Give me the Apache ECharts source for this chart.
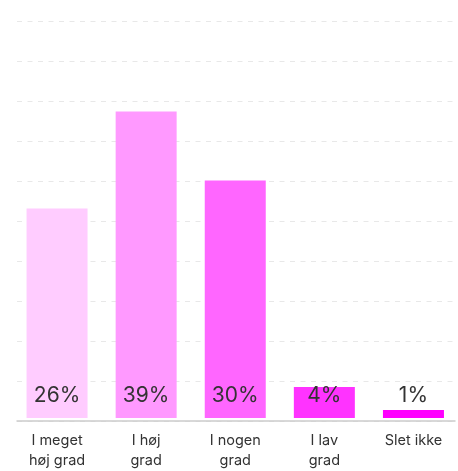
<!DOCTYPE html>
<html>
<head>
<meta charset="utf-8">
<script src="https://cdn.jsdelivr.net/npm/echarts@6/dist/echarts.min.js"></script>
<style>html,body{margin:0;padding:0;background:#fff}#c{width:458px;height:471px}</style>
</head>
<body>
<div id="c"></div>
<script>
const categories = ['I meget\nhøj grad', 'I høj\ngrad', 'I nogen\ngrad', 'I lav\ngrad', 'Slet ikke'];
const values = [26.4, 38.6, 29.9, 3.9, 1.0];
const labels = ['26%', '39%', '30%', '4%', '1%'];
const colors = ['#FFCCFF', '#FF99FF', '#FF66FF', '#FF33FF', '#FF00FF'];

const chart = echarts.init(document.getElementById('c'));
chart.setOption({
  animation: false,
  textStyle: { fontFamily: 'Inter' },
  grid: [
    { left: 17, right: 3, top: 21, bottom: 50 },
    { left: 12.5, width: 450, top: 21, bottom: 50 }
  ],
  xAxis: [
    { gridIndex: 0, type: 'category', data: categories, axisLabel: { show: false }, axisTick: { show: false },
      axisLine: { show: true, lineStyle: { color: '#cccccc', width: 1.5 } } },
    { gridIndex: 1, type: 'category', data: categories, axisTick: { show: false }, axisLine: { show: false },
      axisLabel: { color: '#333333', fontSize: 14.5, lineHeight: 20, margin: 13, interval: 0, fontFamily: 'Inter' } }
  ],
  yAxis: [
    { gridIndex: 0, type: 'value', min: 0, max: 50, interval: 5, axisLabel: { show: false },
      axisLine: { show: false }, axisTick: { show: false },
      splitLine: { show: true, lineStyle: { color: '#e8e8e8', type: [5, 5.5], width: 1 } } },
    { gridIndex: 1, type: 'value', min: 0, max: 50, interval: 5, show: false, splitLine: { show: false } }
  ],
  series: [{
    type: 'bar', xAxisIndex: 1, yAxisIndex: 1, barWidth: 61,
    data: values.map((v, i) => ({ value: v, itemStyle: { color: colors[i] } })),
    label: { show: true, position: 'insideBottom', distance: 12, color: '#333333', fontSize: 21, fontFamily: 'Inter',
      formatter: p => labels[p.dataIndex] }
  }]
});
</script>
</body>
</html>
